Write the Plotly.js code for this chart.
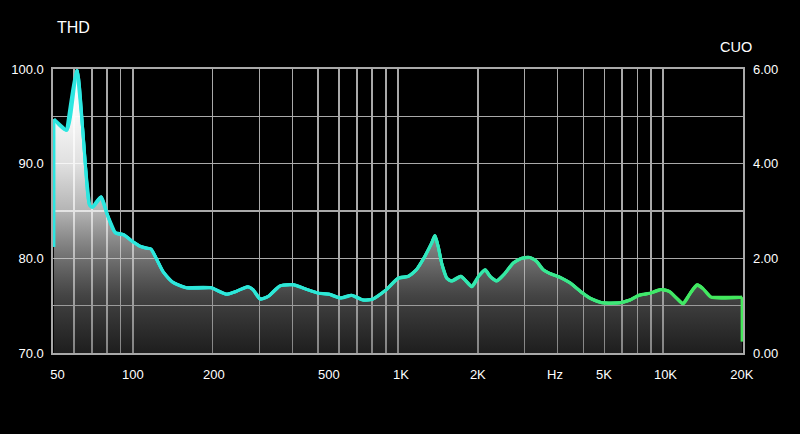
<!DOCTYPE html>
<html>
<head>
<meta charset="utf-8">
<script src="https://cdn.plot.ly/plotly-3.0.1.min.js"></script>
<style>
  html, body { margin: 0; padding: 0; background: #000; }
  #chart { width: 800px; height: 434px; }
</style>
</head>
<body>
<div id="chart"></div>
<script>
// Frequency (Hz)
const freq = [50.4, 50.4, 56.3, 61.6, 64.6, 66.5, 68.7, 70.5, 75.9, 79.7, 85.8, 92.2, 99.5, 106, 112, 117, 123, 130, 141, 159,
  198, 205, 226, 245, 272, 284, 302, 325, 359, 404, 455, 505, 552, 606, 668, 737, 804, 904, 1000, 1094,
  1174, 1262, 1339, 1378, 1419, 1461, 1527, 1595, 1726, 1792, 1899, 2012, 2131, 2224, 2356, 2529, 2717, 2920, 3138, 3326,
  3525, 3735, 4083, 4464, 4880, 5290, 5890, 6875, 7500, 8110, 8900, 9790, 10560, 11230, 11890, 12640, 13430, 14130, 15130, 19850, 19850];
// THD level (left axis units)
const thd = [81.2, 94.7, 93.5, 99.9, 93.9, 89.3, 85.6, 85.4, 86.5, 84.8, 82.7, 82.5, 81.8, 81.3, 81.1, 81.0, 79.9, 78.6, 77.5, 76.9,
  76.9, 76.7, 76.2, 76.5, 77.0, 76.7, 75.7, 76.0, 77.1, 77.2, 76.7, 76.3, 76.2, 75.8, 76.1, 75.6, 75.7, 76.7, 77.9, 78.1,
  78.8, 80.2, 81.6, 82.4, 81.2, 79.5, 77.9, 77.6, 78.1, 77.7, 77.0, 78.1, 78.8, 78.1, 77.6, 78.4, 79.5, 80.0, 80.1, 79.7,
  78.8, 78.4, 78.0, 77.4, 76.5, 75.8, 75.3, 75.3, 75.6, 76.1, 76.3, 76.7, 76.5, 75.8, 75.2, 76.3, 77.2, 76.8, 75.9, 75.9, 71.2];

// Axis labels
const xLabelVals = [52, 100, 202, 549, 1026, 2000, 3910, 5980, 10200, 19800];
const xLabelText = ["50", "100", "200", "500", "1K", "2K", "Hz", "5K", "10K", "20K"];
const xGridVals = [60, 70, 80, 90, 100, 200, 300, 400, 500, 600, 700, 800, 900, 1000,
  2000, 3000, 4000, 5000, 6000, 7000, 8000, 9000, 10000];
const yLeftVals = [70, 75, 80, 85, 90, 95, 100];
const yLeftText = ["70.0", "", "80.0", "", "90.0", "", "100.0"];
const yRightVals = [0, 2, 4, 6];
const yRightText = ["0.00", "2.00", "4.00", "6.00"];

const xMin = 50, xMax = 20000;
const lx0 = Math.log10(xMin), lx1 = Math.log10(xMax);

// line colour stops along the log-frequency axis
const colStops = [
  [0.00, [45, 230, 225]],
  [0.45, [45, 232, 212]],
  [0.60, [50, 232, 178]],
  [0.75, [58, 232, 140]],
  [0.88, [64, 232, 105]],
  [1.00, [68, 232, 90]]
];
function colorAt(t) {
  t = Math.max(0, Math.min(1, t));
  for (let i = 0; i < colStops.length - 1; i++) {
    const [a, ca] = colStops[i], [b, cb] = colStops[i + 1];
    if (t >= a && t <= b) {
      const u = (t - a) / (b - a);
      const c = ca.map((v, k) => Math.round(v + (cb[k] - v) * u));
      return `rgb(${c[0]},${c[1]},${c[2]})`;
    }
  }
  const c = colStops[colStops.length - 1][1];
  return `rgb(${c[0]},${c[1]},${c[2]})`;
}

const SMOOTH = 0.7;
const traces = [];
// filled area with vertical gradient
traces.push({
  x: freq, y: thd, type: 'scatter', mode: 'lines',
  line: { width: 0, color: 'rgba(0,0,0,0)', shape: 'spline', smoothing: SMOOTH },
  fill: 'tozeroy',
  fillgradient: {
    type: 'vertical',
    start: 70, stop: 100,
    colorscale: [
      [0.0, 'rgba(75,75,75,0.40)'],
      [0.2, 'rgba(150,150,150,0.45)'],
      [0.333, 'rgba(200,200,200,0.56)'],
      [0.5, 'rgba(250,250,250,0.72)'],
      [0.667, 'rgba(255,255,255,0.88)'],
      [0.833, 'rgba(255,255,255,0.97)'],
      [1.0, 'rgba(255,255,255,1)']
    ]
  },
  hoverinfo: 'skip', showlegend: false
});
// coloured outline, in short overlapping spline pieces
for (let i = 0; i < freq.length - 1; i++) {
  const s = Math.max(0, i - 1);
  const xs = freq.slice(s, i + 3), ys = thd.slice(s, i + 3);
  let hasVertical = false;
  for (let k = 0; k < xs.length - 1; k++) if (xs[k] === xs[k + 1]) hasVertical = true;
  const tm = ((Math.log10(freq[i]) + Math.log10(freq[i + 1])) / 2 - lx0) / (lx1 - lx0);
  traces.push({
    x: hasVertical ? freq.slice(i, i + 2) : xs,
    y: hasVertical ? thd.slice(i, i + 2) : ys,
    type: 'scatter', mode: 'lines',
    line: { width: 3, color: colorAt(tm), shape: hasVertical ? 'linear' : 'spline', smoothing: SMOOTH },
    hoverinfo: 'skip', showlegend: false
  });
}
// empty trace to hold the right axis
traces.push({ x: [], y: [], yaxis: 'y2', type: 'scatter', mode: 'lines', showlegend: false });

const axisFont = { family: 'Liberation Sans, Arial, sans-serif', size: 13, color: '#ffffff' };
const gridCol = '#a9a9a9';

const layout = {
  width: 800, height: 434,
  paper_bgcolor: '#000', plot_bgcolor: '#000',
  margin: { l: 53, r: 57, t: 69, b: 81 },
  showlegend: false,
  title: {
    text: 'THD', x: 57 / 800, xanchor: 'left', xref: 'container',
    y: 1 - 27 / 434, yanchor: 'middle', yref: 'container',
    font: { family: 'Liberation Sans, Arial, sans-serif', size: 16, color: '#fff' }
  },
  xaxis: {
    type: 'log', range: [lx0, lx1],
    tickmode: 'array', tickvals: xLabelVals, ticktext: xLabelText,
    ticks: '', showgrid: false, zeroline: false,
    tickfont: axisFont, ticklabelstandoff: 9,
    minor: { tickmode: 'array', tickvals: xGridVals, showgrid: true, gridcolor: gridCol, gridwidth: 1.6, ticks: '' },
    showline: true, linecolor: gridCol, linewidth: 1.6, mirror: true
  },
  yaxis: {
    range: [70, 100],
    tickmode: 'array', tickvals: yLeftVals, ticktext: yLeftText,
    ticks: '', showgrid: true, gridcolor: gridCol, gridwidth: 1.6, zeroline: false,
    tickfont: axisFont, ticklabelstandoff: 5,
    showline: true, linecolor: gridCol, linewidth: 1.6, mirror: true
  },
  yaxis2: {
    overlaying: 'y', side: 'right', range: [0, 6],
    tickmode: 'array', tickvals: yRightVals, ticktext: yRightText,
    ticks: '', showgrid: false, zeroline: false, showline: false,
    tickfont: axisFont, ticklabelstandoff: 9
  },
  annotations: [{
    text: 'CUO', xref: 'paper', yref: 'paper',
    x: (736 - 53) / 690, y: (353 - 47) / 284,
    xanchor: 'center', yanchor: 'middle', showarrow: false,
    font: { family: 'Liberation Sans, Arial, sans-serif', size: 14.5, color: '#fff' }
  }]
};

Plotly.newPlot('chart', traces, layout, { displayModeBar: false, staticPlot: true });
</script>
</body>
</html>
